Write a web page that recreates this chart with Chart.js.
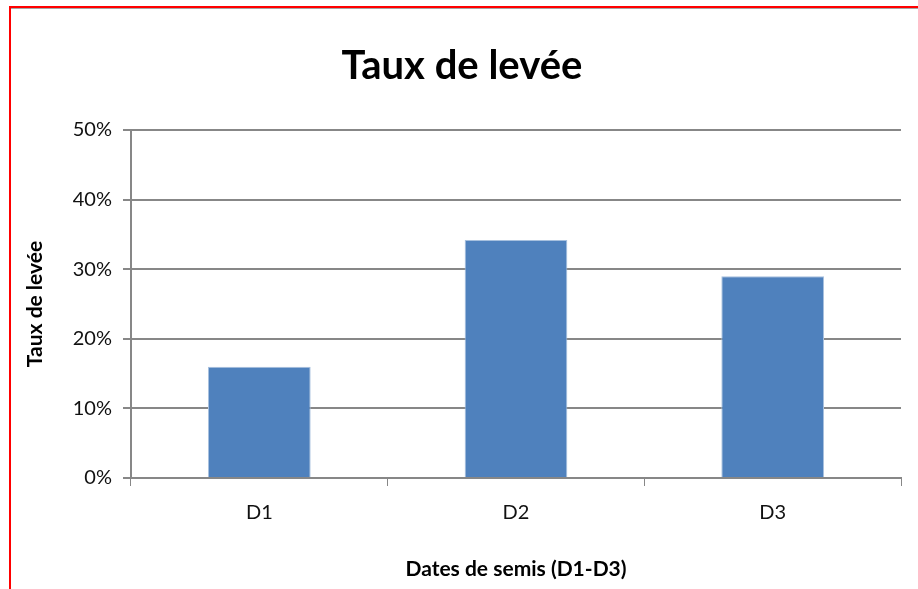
<!DOCTYPE html>
<html>
<head>
<meta charset="utf-8">
<script src="https://cdn.jsdelivr.net/npm/chart.js@4/dist/chart.umd.min.js"></script>
<style>
html,body{margin:0;padding:0;background:#fff;}
#wrap{width:918px;height:589px;position:relative;}
</style>
</head>
<body>
<div id="wrap"><canvas id="chart"></canvas></div>
<script>
const categories = ["D1", "D2", "D3"];
const tauxLevee = [0.16, 0.342, 0.29];
const yTicks = [0, 0.1, 0.2, 0.3, 0.4, 0.5];

const FONT = "Lato, 'Open Sans', sans-serif";

// cadre rouge autour du graphique
const frame = {
  id: "frame",
  beforeDraw(chart){
    const c = chart.ctx;
    c.save();
    c.fillStyle = "#fff";
    c.fillRect(0, 0, chart.width, chart.height);
    c.fillStyle = "#a6a6a6";
    c.fillRect(9, 8, chart.width - 9, 1);
    c.fillStyle = "#ff0000";
    c.fillRect(9, 6, chart.width - 9, 2);
    c.fillRect(9, 6, 2, chart.height - 6);
    c.restore();
  }
};

new Chart(
document.getElementById("chart"),
{
type:"bar",
data:{
labels:categories,
datasets:[{
label:"Taux de levée",
data:tauxLevee,
backgroundColor:"#4f81bd",
borderColor:"#a7c0de",
borderWidth:1,
categoryPercentage:1,
barPercentage:0.4
}]
},
options:{
responsive:true,
maintainAspectRatio:false,
animation:false,
layout:{padding:{left:23, right:17, top:0, bottom:0}},
plugins:{
legend:{display:false},
tooltip:{enabled:false},
title:{
display:true,
text:"Taux de levée",
color:"#000",
font:{family:FONT, size:40, weight:"bold"},
padding:{top:42, bottom:40}
}
},
scales:{
x:{
grid:{display:true, drawOnChartArea:false, drawTicks:true, tickLength:8, color:"#878787", offset:true},
border:{color:"#878787", width:2},
ticks:{color:"#111", font:{family:FONT, size:20}, padding:15},
title:{display:true, text:"Dates de semis (D1-D3)", color:"#000", font:{family:FONT, size:21, weight:"bold"}, padding:{top:0, bottom:7}},
afterFit(scale){ scale.height = 111; }
},
y:{
min:0,
max:0.5,
afterBuildTicks(scale){ scale.ticks = yTicks.map(v => ({value:v})); },
grid:{color:"#878787", lineWidth:2, tickLength:8},
border:{color:"#878787", width:2},
ticks:{
color:"#111",
font:{family:FONT, size:20},
padding:11,
callback:v => Math.round(v*100) + "%"
},
title:{display:true, text:"Taux de levée", color:"#000", font:{family:FONT, size:21, weight:"bold"}, padding:{top:0, bottom:0}},
afterFit(scale){ scale.width = 108; }
}
}
},
plugins:[frame]
}
);
</script>
</body>
</html>
